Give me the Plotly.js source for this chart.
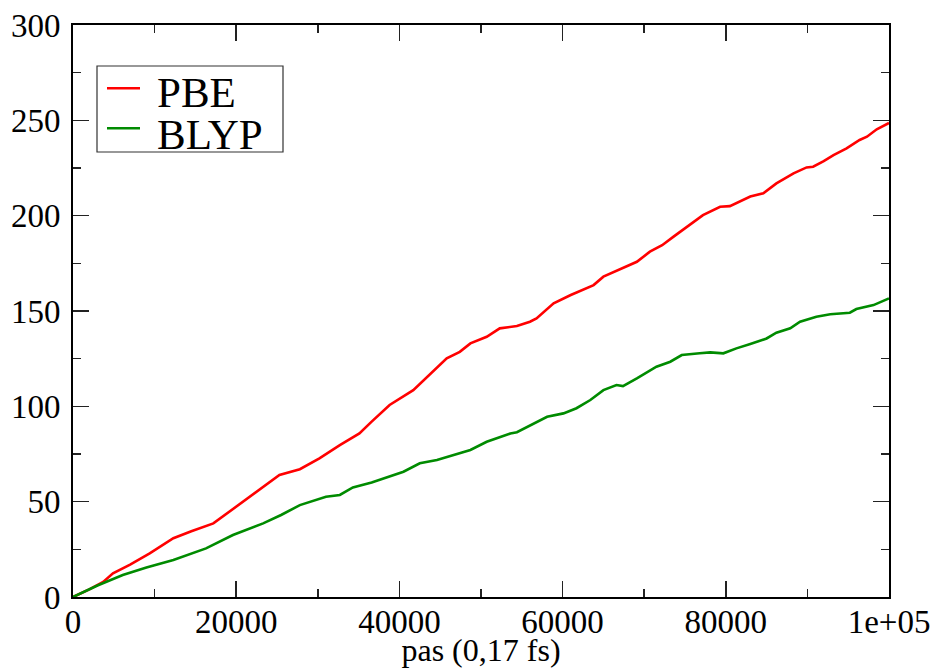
<!DOCTYPE html>
<html>
<head>
<meta charset="utf-8">
<script src="https://cdn.plot.ly/plotly-3.0.1.min.js"></script>
<style>html,body{margin:0;padding:0;background:#fff;}#chart{width:938px;height:668px;}</style>
</head>
<body>
<div id="chart"></div>
<script>
// PBE series (x in steps, y values)
var pbeX = [0,2000,3700,4900,7000,9400,12300,14500,17200,20000,22100,25300,27800,30200,32700,35100,36600,38800,41700,43800,45800,47400,48700,50700,52300,54400,56000,56800,58900,61000,63800,65000,67400,69100,70700,72200,73600,75600,77200,79300,80500,83000,84600,86200,88300,89900,90700,92000,93200,94800,96400,97300,98500,100000];
var pbeY = [0,4,7.9,12.4,17,22.9,30.8,34.5,38.6,47.4,54.4,64,67,72.7,79.7,85.8,92,100.7,108.5,117.3,125.2,128.6,133,136.5,140.9,142.1,144.4,146.1,154,158.4,163.6,168,172.4,175.8,181.1,184.5,189,195.1,200.3,204.7,205,210,211.7,216.9,222.2,225.3,225.7,228.6,231.8,235.3,239.7,241.4,245.3,248.6];
// BLYP series
var blypX = [0,3000,6100,9000,12300,16300,19600,23300,25500,27800,31000,32700,34300,36600,40500,42500,44600,48700,50700,53600,54400,56800,58100,60100,61700,63400,65000,66600,67400,69100,71500,73200,74600,76800,78100,79700,81300,83000,85000,86200,87900,89100,91100,92800,95200,96000,98100,100000];
var blypY = [0,6,11.5,15.5,19.4,25.5,32.5,38.6,43,48.2,52.6,53.5,57.5,60,65.7,70.1,71.8,77.1,81.4,85.8,86.4,91.9,94.5,96.3,99,103.3,108.5,111.2,110.6,114.7,120.8,123.4,126.9,127.8,128.3,127.8,130.4,132.7,135.6,138.6,140.9,144.4,147,148.3,149.1,151,153.1,156.6];

var seriesNames = ['PBE','BLYP'];
var seriesColors = ['#ff0000','#008b00'];
var xTickVals = [0,20000,40000,60000,80000,100000];
var xTickText = ['0','20000','40000','60000','80000','1e+05'];
var yTickVals = [0,50,100,150,200,250,300];
var xTitle = 'pas (0,17 fs)';

var FONT = 'Liberation Serif';

var traces = [
  {x: pbeX, y: pbeY, mode: 'lines', name: seriesNames[0], line: {color: seriesColors[0], width: 2.6}},
  {x: blypX, y: blypY, mode: 'lines', name: seriesNames[1], line: {color: seriesColors[1], width: 2.6}}
];

function px2x(p){ return (p-73)/816; }
function py2y(p){ return (597-p)/572; }

var layout = {
  width: 938, height: 668,
  margin: {l: 73, r: 49, t: 25, b: 71, pad: 0},
  paper_bgcolor: '#fff', plot_bgcolor: '#fff',
  showlegend: false,
  font: {family: FONT, color: '#000'},
  xaxis: {
    range: [0, 100000], showgrid: false, zeroline: false,
    showline: true, linecolor: '#000', linewidth: 2, mirror: 'allticks',
    ticks: 'inside', ticklen: 16, tickwidth: 1.5, tickcolor: '#222',
    tickvals: xTickVals, ticktext: xTickText,
    tickfont: {family: FONT, size: 33, color: '#000'},
    minor: {dtick: 10000, ticks: 'inside', ticklen: 8, tickwidth: 1.5, tickcolor: '#222', showgrid: false},
    title: {text: xTitle, font: {family: FONT, size: 32, color: '#000'}, standoff: 16}
  },
  yaxis: {
    range: [0, 300], showgrid: false, zeroline: false,
    showline: true, linecolor: '#000', linewidth: 2, mirror: 'allticks',
    ticks: 'inside', ticklen: 16, tickwidth: 1.5, tickcolor: '#222',
    tickvals: yTickVals,
    tickfont: {family: FONT, size: 33, color: '#000'},
    minor: {dtick: 25, ticks: 'inside', ticklen: 8, tickwidth: 1.5, tickcolor: '#222', showgrid: false},
    ticklabelstandoff: 4
  },
  shapes: [
    {type: 'rect', xref: 'paper', yref: 'paper', x0: px2x(97), x1: px2x(283), y0: py2y(152), y1: py2y(66), line: {color: '#333', width: 1.2}, fillcolor: '#fff', layer: 'above'},
    {type: 'line', xref: 'paper', yref: 'paper', x0: px2x(107), x1: px2x(140), y0: py2y(88.3), y1: py2y(88.3), line: {color: seriesColors[0], width: 2.6}, layer: 'above'},
    {type: 'line', xref: 'paper', yref: 'paper', x0: px2x(107), x1: px2x(140), y0: py2y(128.3), y1: py2y(128.3), line: {color: seriesColors[1], width: 2.6}, layer: 'above'}
  ],
  annotations: [
    {xref: 'paper', yref: 'paper', x: px2x(155), y: py2y(91.5), xanchor: 'left', yanchor: 'middle', height: 40, valign: 'middle', text: seriesNames[0], showarrow: false, font: {family: FONT, size: 43, color: '#000'}},
    {xref: 'paper', yref: 'paper', x: px2x(155), y: py2y(133.5), xanchor: 'left', yanchor: 'middle', height: 40, valign: 'middle', text: seriesNames[1], showarrow: false, font: {family: FONT, size: 43, color: '#000'}}
  ]
};

Plotly.newPlot('chart', traces, layout, {displayModeBar: false, staticPlot: true}).then(function(gd){
  // nudge x tick labels slightly closer to the axis, as in the reference
  gd.querySelectorAll('.xtick text').forEach(function(t){
    var y = parseFloat(t.getAttribute('y')) || 0;
    t.setAttribute('y', y - 6);
  });
});
</script>
</body>
</html>
